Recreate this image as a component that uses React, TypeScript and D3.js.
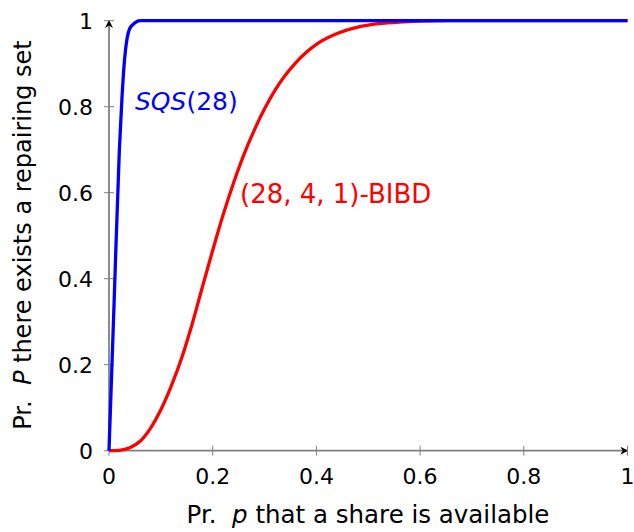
import React from "react";
import * as d3 from "d3";

const sqsP = [0, 0.01, 0.02, 0.025, 0.03, 0.035, 0.04, 0.05, 0.06, 0.08, 0.1, 0.2, 0.4, 0.6, 0.8, 1];
const sqsProb = [0, 0.35, 0.70, 0.82, 0.91, 0.96, 0.982, 0.995, 1.0, 1.0, 1.0, 1.0, 1.0, 1.0, 1.0, 1.0];

const bibdP = [0, 0.02, 0.04, 0.06, 0.08, 0.1, 0.12, 0.14, 0.16, 0.18, 0.2, 0.22, 0.24, 0.26, 0.28, 0.3, 0.32, 0.34, 0.36, 0.38, 0.4, 0.44, 0.48, 0.52, 0.56, 0.6, 0.65, 0.8, 1];
const bibdProb = [0, 0.001, 0.007, 0.022, 0.052, 0.095, 0.150, 0.215, 0.293, 0.380, 0.466, 0.548, 0.622, 0.688, 0.745, 0.795, 0.838, 0.873, 0.902, 0.926, 0.945, 0.970, 0.985, 0.993, 0.997, 0.999, 1.0, 1.0, 1.0];

const xTicks = [0, 0.2, 0.4, 0.6, 0.8, 1];
const yTicks = [0, 0.2, 0.4, 0.6, 0.8, 1];
const xTickLabels = ["0", "0.2", "0.4", "0.6", "0.8", "1"];
const yTickLabels = ["0", "0.2", "0.4", "0.6", "0.8", "1"];

const W = 634, H = 532;
const FONT = "'DejaVu Sans', sans-serif";

export default function App() {
  const x = d3.scaleLinear().domain([0, 1]).range([109, 627.5]);
  const y = d3.scaleLinear().domain([0, 1]).range([450.7, 20.7]);
  const line = d3.line<[number, number]>()
    .x(d => x(d[0]))
    .y(d => y(d[1]))
    .curve(d3.curveMonotoneX);
  const sqs = sqsP.map((p, i) => [p, sqsProb[i]] as [number, number]);
  const bibd = bibdP.map((p, i) => [p, bibdProb[i]] as [number, number]);
  const axisColor = "#808080";
  const fs = 22;
  const fl = 25;
  return (
    <svg width={W} height={H} style={{ position: "absolute", left: 0, top: 0 }}>
      <defs>
        <marker id="arr" viewBox="0 0 10 10" refX="9" refY="5" markerWidth="8" markerHeight="8" markerUnits="userSpaceOnUse" orient="auto">
          <path d="M0,0 L10,5 L0,10 L3,5 Z" fill="#000" />
        </marker>
      </defs>
      {/* axes */}
      <line x1={x(0)} y1={y(0)} x2={x(1)} y2={y(0)} stroke={axisColor} strokeWidth={1.8} markerEnd="url(#arr)" />
      <line x1={x(0)} y1={y(0)} x2={x(0)} y2={y(1)} stroke={axisColor} strokeWidth={1.8} markerEnd="url(#arr)" />
      {xTicks.map((t, i) => (
        <g key={"xt" + i}>
          <line x1={x(t)} x2={x(t)} y1={y(0) - 5} y2={y(0) + 5} stroke={axisColor} strokeWidth={1} />
          <text x={x(t)} y={y(0) + 33} textAnchor="middle" fontSize={fs} fontFamily={FONT} fill="#000">{xTickLabels[i]}</text>
        </g>
      ))}
      {yTicks.map((t, i) => (
        <g key={"yt" + i}>
          <line x1={x(0) - 5} x2={x(0) + 5} y1={y(t)} y2={y(t)} stroke={axisColor} strokeWidth={1} />
          <text x={x(0) - 16} y={y(t) + 8} textAnchor="end" fontSize={fs} fontFamily={FONT} fill="#000">{yTickLabels[i]}</text>
        </g>
      ))}
      {/* curves */}
      <path d={line(bibd) || ""} fill="none" stroke="#ff0000" strokeWidth={3.3} />
      <path d={line(sqs) || ""} fill="none" stroke="#0000ff" strokeWidth={3.3} />
      {/* labels */}
      <text x={135} y={110} fontSize={fl} fontFamily={FONT} fill="#0000ff">
        <tspan fontStyle="italic">SQS</tspan><tspan>(28)</tspan>
      </text>
      <text x={240} y={203} fontSize={26} fontFamily={FONT} fill="#ff0000">(28, 4, 1)-BIBD</text>
      {/* titles */}
      <text x={368} y={523} textAnchor="middle" fontSize={24.5} fontFamily={FONT} fill="#000">
        <tspan>Pr.&#160;&#160;</tspan><tspan fontStyle="italic">p</tspan><tspan> that a share is available</tspan>
      </text>
      <text transform={`translate(31,235) rotate(-90)`} textAnchor="middle" fontSize={24} fontFamily={FONT} fill="#000">
        <tspan>Pr.&#160;&#160;</tspan><tspan fontStyle="italic">P</tspan><tspan> there exists a repairing set</tspan>
      </text>
    </svg>
  );
}
